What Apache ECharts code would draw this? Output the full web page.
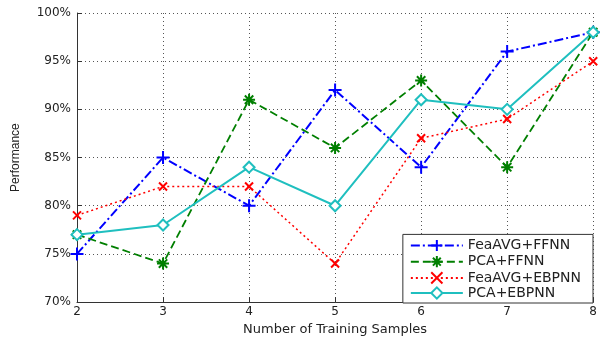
<!DOCTYPE html>
<html><head><meta charset="utf-8">
<script src="https://cdn.jsdelivr.net/npm/echarts@6/dist/echarts.min.js"></script>
<style>html,body{margin:0;padding:0;background:#fff}#c{width:600px;height:341px}</style>
</head><body><div id="c"></div>
<script>
const samples = [2, 3, 4, 5, 6, 7, 8];
const feaAvgFFNN = [75, 85, 80, 92, 84, 96, 98];
const pcaFFNN = [77, 74, 91, 86, 93, 84, 98];
const feaAvgEBPNN = [79, 82, 82, 74, 87, 89, 95];
const pcaEBPNN = [77, 78, 84, 80, 91, 90, 98];
const seriesNames = ['FeaAVG+FFNN', 'PCA+FFNN', 'FeaAVG+EBPNN', 'PCA+EBPNN'];

const pair = arr => samples.map((x, i) => [x, arr[i]]);
const plusSym = 'path://M0,5L10,5M5,0L5,10';
const xSym = 'path://M0,0L10,10M0,10L10,0';
const starSym = 'path://M0,5L10,5M5,0L5,10M1.5,1.5L8.5,8.5M1.5,8.5L8.5,1.5';
const font = 'DejaVu Sans, Verdana, sans-serif';
const font2 = 'Liberation Sans, Arial, sans-serif';

const chart = echarts.init(document.getElementById('c'));
chart.setOption({
  animation: false,
  grid: {left: 77, right: 6, top: 13, bottom: 35},
  xAxis: {
    type: 'value', min: 2, max: 8, interval: 1,
    name: 'Number of Training Samples', nameLocation: 'middle', nameGap: 19,
    nameTextStyle: {fontFamily: font, fontSize: 13, color: '#222'},
    axisLine: {lineStyle: {color: '#333', width: 1}},
    axisTick: {inside: true, length: 5, lineStyle: {color: '#333'}},
    axisLabel: {fontFamily: font, fontSize: 12, color: '#222', margin: 4},
    splitLine: {show: true, lineStyle: {type: [1, 3], color: '#555', width: 1}}
  },
  yAxis: {
    type: 'value', min: 70, max: 100, interval: 5,
    name: 'Performance', nameLocation: 'middle', nameGap: 55,
    nameTextStyle: {fontFamily: font2, fontSize: 12, color: '#222'},
    axisLine: {show: true, lineStyle: {color: '#333', width: 1}},
    axisTick: {show: true, inside: true, length: 5, lineStyle: {color: '#333'}},
    axisLabel: {fontFamily: font, fontSize: 12, color: '#222', margin: 6, formatter: v => v + '%'},
    splitLine: {show: true, lineStyle: {type: [1, 3], color: '#555', width: 1}}
  },
  legend: {
    orient: 'vertical', right: 7, bottom: 38,
    backgroundColor: '#fff', borderColor: '#333', borderWidth: 1,
    padding: [3, 12, 3, 7], itemGap: 0, itemWidth: 52, itemHeight: 14,
    textStyle: {fontFamily: font, fontSize: 14, lineHeight: 14, color: '#222'},
    data: seriesNames
  },
  series: [
    {name: seriesNames[0], type: 'line', data: pair(feaAvgFFNN), symbol: plusSym, symbolSize: 13,
     lineStyle: {color: '#0000ff', width: 2, type: [9, 3, 2, 3]},
     itemStyle: {color: 'none', borderColor: '#0000ff', borderWidth: 2}},
    {name: seriesNames[1], type: 'line', data: pair(pcaFFNN), symbol: starSym, symbolSize: 12,
     lineStyle: {color: '#007f00', width: 1.8, type: [8, 4]},
     itemStyle: {color: 'none', borderColor: '#007f00', borderWidth: 2}},
    {name: seriesNames[2], type: 'line', data: pair(feaAvgEBPNN), symbol: xSym, symbolSize: 8,
     lineStyle: {color: '#ff0000', width: 1.5, type: [2, 3]},
     itemStyle: {color: 'none', borderColor: '#ff0000', borderWidth: 2}},
    {name: seriesNames[3], type: 'line', data: pair(pcaEBPNN), symbol: 'emptyDiamond', symbolSize: 11,
     lineStyle: {color: '#1fbfbf', width: 2, type: 'solid'},
     itemStyle: {color: '#1fbfbf', borderColor: '#1fbfbf', borderWidth: 1.5}}
  ]
});
</script></body></html>
